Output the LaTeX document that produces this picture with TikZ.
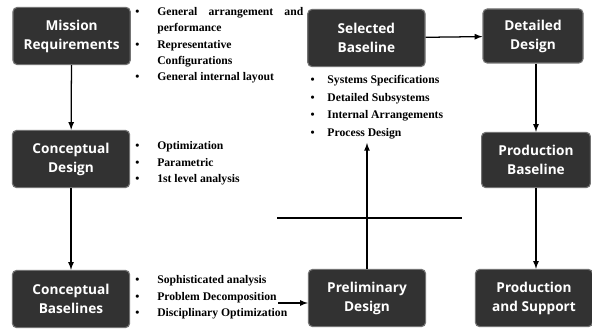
\documentclass[tikz,border=0pt]{standalone}
\usepackage{fontspec}
\setmainfont{Liberation Serif}
\newfontfamily\boxfont{Open Sans}
\usepackage{tikz}
\usepackage{array}
\definecolor{boxgray}{RGB}{50,50,50}

\begin{document}
\begin{tikzpicture}[
  stagebox/.style={rectangle, rounded corners=3pt, fill=boxgray, draw=black!55,
    line width=0.8pt, text=white, align=center, minimum width=2.93cm,
    minimum height=1.43cm, inner sep=1pt,
    font=\boxfont\bfseries\fontsize{9.7}{13.5}\selectfont},
  notes/.style={anchor=west, inner sep=0pt, align=left,
    font=\bfseries\fontsize{8.3}{11.6}\selectfont},
  flow/.style={-latex, line width=0.9pt}
]
\useasboundingbox (0,0) rectangle (14.8,8.25);

% Stage boxes
\node[stagebox] (mission) at (1.79,7.35) {Mission\\Requirements};
\node[stagebox] (cdesign) at (1.775,4.275) {Conceptual\\Design};
\node[stagebox] (cbase) at (1.775,0.775) {Conceptual\\Baselines};
\node[stagebox] (prelim) at (9.175,0.8) {Preliminary\\Design};
\node[stagebox] (selected) at (9.16,7.3) {Selected\\Baseline};
\node[stagebox, minimum width=2.5cm, minimum height=1.35cm] (detailed) at (13.325,7.35) {Detailed\\Design};
\node[stagebox, minimum width=2.72cm, minimum height=1.38cm] (prodbase) at (13.4,4.25) {Production\\Baseline};
\node[stagebox] (prodsup) at (13.35,0.8) {Production\\and Support};

% Bullet notes
\node[notes] (missionnotes) at (3.375,7.125) {%
  \begin{tabular}{@{}p{0.55cm}@{}p{3.65cm}@{}}
  \textbullet & General arrangement and performance\\
  \textbullet & Representative\newline Configurations\\
  \textbullet & General internal layout
  \end{tabular}};
\node[notes] (cdesignnotes) at (3.375,4.175) {%
  \begin{tabular}{@{}p{0.55cm}@{}l@{}}
  \textbullet & Optimization\\
  \textbullet & Parametric\\
  \textbullet & 1st level analysis
  \end{tabular}};
\node[notes] (cbasenotes) at (3.375,0.825) {%
  \begin{tabular}{@{}p{0.55cm}@{}l@{}}
  \textbullet & Sophisticated analysis\\
  \textbullet & Problem Decomposition\\
  \textbullet & Disciplinary Optimization
  \end{tabular}};
\node[notes, font=\bfseries\fontsize{8.3}{12.5}\selectfont] (selectednotes) at (7.76,5.5875) {%
  \begin{tabular}{@{}p{0.42cm}@{}l@{}}
  \textbullet & Systems Specifications\\
  \textbullet & Detailed Subsystems\\
  \textbullet & Internal Arrangements\\
  \textbullet & Process Design
  \end{tabular}};

% Free ends
\coordinate (feed) at (6.95,0.675);
\coordinate (uptip) at (9.175,4.675);
\coordinate (cutl) at (6.925,2.8);
\coordinate (cutr) at (11.55,2.8);

% Connectors
\draw[flow] (mission) -- (cdesign);
\draw[flow] (cdesign) -- (cbase);
\draw[flow] (feed) -- (feed -| prelim.west);
\draw[flow] (prelim) -- (uptip);
\draw[line width=0.9pt] (cutl) -- (cutr);
\draw[flow] (selected) -- (detailed);
\draw[flow] (detailed.south -| prodbase.north) -- (prodbase);
\draw[flow] (prodbase) -- (prodbase |- prodsup.north);

\end{tikzpicture}
\end{document}
